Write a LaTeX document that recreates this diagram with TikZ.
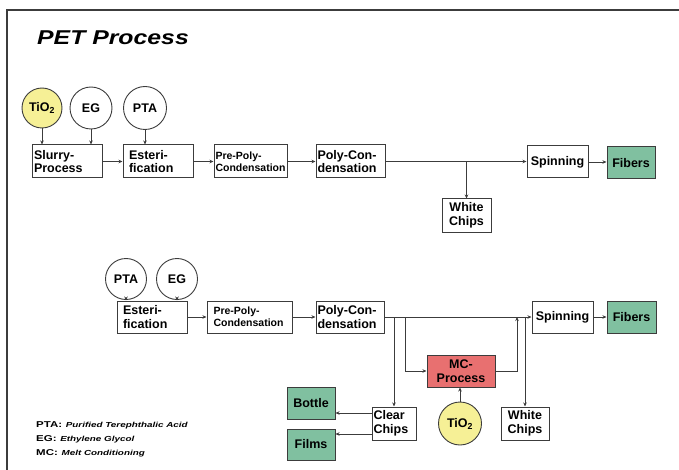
\documentclass[tikz,border=0pt]{standalone}
\usepackage{fontspec}
\usepackage{graphicx}
\setmainfont{Liberation Sans}
\usetikzlibrary{arrows.meta}
\definecolor{yel}{RGB}{246,240,150}
\definecolor{grn}{RGB}{128,192,160}
\definecolor{rd}{RGB}{232,112,112}
\definecolor{ln}{RGB}{60,60,60}
\tikzset{
  box/.style={draw=ln, line width=1pt, rectangle, inner sep=1.5pt, font=\fontsize{12.5}{13.5}\selectfont\bfseries, align=center},
  circ/.style={draw=ln, line width=0.9pt, circle, inner sep=0pt, font=\fontsize{12.5}{13.5}\selectfont\bfseries},
  arr/.style={draw=ln, line width=0.8pt, -{Stealth[length=4pt,width=3.5pt]}},
  ln/.style={draw=ln, line width=0.8pt},
  leg/.style={anchor=base west, inner sep=0pt}
}
\newcommand{\legline}[2]{\scalebox{1.35}[1]{{\fontsize{8.5}{9}\selectfont\bfseries #1} {\fontsize{7.3}{8}\selectfont\bfseries\itshape #2}}}
\begin{document}
\begin{tikzpicture}[x=1pt,y=-1pt]
\useasboundingbox (0,0) rectangle (679,470);
% frame
\draw[ln, line width=2pt, color=ln] (679,10) -- (7,10) -- (7,470);
% title
\node[anchor=base west, inner sep=0pt] (title) at (37,45) {\scalebox{1.24}[1]{\fontsize{20}{21}\selectfont\bfseries\itshape PET Process}};

% ---------- top row
\node[circ, fill=yel, minimum size=40pt] (tio1) at (42,108) {TiO\textsubscript{2}};
\node[circ, minimum size=42pt] (eg1) at (91,108) {EG};
\node[circ, minimum size=43pt] (pta1) at (145,108) {PTA};
\node[box, align=left, minimum width=70pt, minimum height=33pt, text width=66pt] (slurry) at (67,161.5) {Slurry-\\Process};
\node[box, align=left, minimum width=70pt, minimum height=33pt, text width=58pt] (est1) at (158,161.5) {Esteri-\\fication};
\node[box, align=left, minimum width=73pt, minimum height=33pt, text width=70pt, font=\fontsize{10.5}{12}\selectfont\bfseries] (pre1) at (250.5,161.5) {Pre-Poly-\\Condensation};
\node[box, align=left, minimum width=69pt, minimum height=33pt, text width=66pt] (poly1) at (350.5,161.5) {Poly-Con-\\densation};
\node[box, minimum width=61pt, minimum height=32pt] (spin1) at (557.5,162) {Spinning};
\node[box, fill=grn, minimum width=48pt, minimum height=32pt] (fib1) at (631,163) {Fibers};
\node[box, minimum width=49pt, minimum height=33pt] (white1) at (466.5,215.5) {White\\Chips};

\draw[arr] (tio1.south) -- (tio1.south |- slurry.north);
\draw[arr] (eg1.south) -- (eg1.south |- slurry.north);
\draw[arr] (pta1.south) -- (pta1.south |- est1.north);
\draw[arr] (slurry.east) -- (est1.west);
\draw[arr] (est1.east) -- (pre1.west);
\draw[arr] (pre1.east) -- (poly1.west);
\draw[arr] (poly1.east) -- (poly1.east -| spin1.west);
\draw[arr] (spin1.east) -- (spin1.east -| fib1.west);
\draw[arr] (white1.north |- poly1.east) -- (white1.north);

% ---------- bottom row
\node[circ, minimum size=41pt] (pta2) at (126,279) {PTA};
\node[circ, minimum size=41pt] (eg2) at (177,279) {EG};
\node[box, align=left, minimum width=70pt, minimum height=32pt, text width=58pt] (est2) at (152,317) {Esteri-\\fication};
\node[box, align=left, minimum width=85pt, minimum height=32pt, text width=72pt, font=\fontsize{10.5}{12}\selectfont\bfseries] (pre2) at (249.5,317) {Pre-Poly-\\Condensation};
\node[box, align=left, minimum width=68pt, minimum height=32pt, text width=65pt] (poly2) at (350,317) {Poly-Con-\\densation};
\node[box, minimum width=61pt, minimum height=32pt] (spin2) at (562.5,317) {Spinning};
\node[box, fill=grn, minimum width=49pt, minimum height=32pt] (fib2) at (631.5,317) {Fibers};
\node[box, fill=rd, minimum width=68pt, minimum height=32pt] (mc) at (461,371) {MC-\\Process};
\node[circ, fill=yel, minimum size=43pt] (tio2) at (460,423.5) {TiO\textsubscript{2}};
\node[box, align=left, minimum width=44pt, minimum height=33pt, text width=41pt] (clear) at (394,423.5) {Clear\\Chips};
\node[box, minimum width=48pt, minimum height=33pt] (white2) at (525,423.5) {White\\Chips};
\node[box, fill=grn, minimum width=48pt, minimum height=32pt] (bottle) at (311,403) {Bottle};
\node[box, fill=grn, minimum width=48pt, minimum height=31pt] (films) at (311,444.5) {Films};

\draw[arr] (pta2.south) -- (pta2.south |- est2.north);
\draw[arr] (eg2.south) -- (eg2.south |- est2.north);
\draw[arr] (est2.east) -- (pre2.west);
\draw[arr] (pre2.east) -- (poly2.west);
\draw[arr] (poly2.east) -- (spin2.west);
\draw[arr] (spin2.east) -- (fib2.west);
\draw[arr] (clear.north |- poly2.east) -- (clear.north);
\coordinate (mcin) at (405,317);
\draw[arr] (mcin) |- (mc.west);
\coordinate (mcout) at (517,317);
\draw[arr] (mc.east) -| (mcout);
\draw[arr] (white2.north |- poly2.east) -- (white2.north);
\draw[arr] (tio2.north) -- (tio2.north |- mc.south);
\coordinate (cb) at (372,413);
\coordinate (cf) at (372,434);
\draw[arr] (cb) -- (cb -| bottle.east);
\draw[arr] (cf) -- (cf -| films.east);

% legend
\node[leg] (l1) at (36,427) {\legline{PTA:}{Purified Terephthalic Acid}};
\node[leg] (l2) at (36,441) {\legline{EG:}{Ethylene Glycol}};
\node[leg] (l3) at (36,455) {\legline{MC:}{Melt Conditioning}};
\end{tikzpicture}
\end{document}
